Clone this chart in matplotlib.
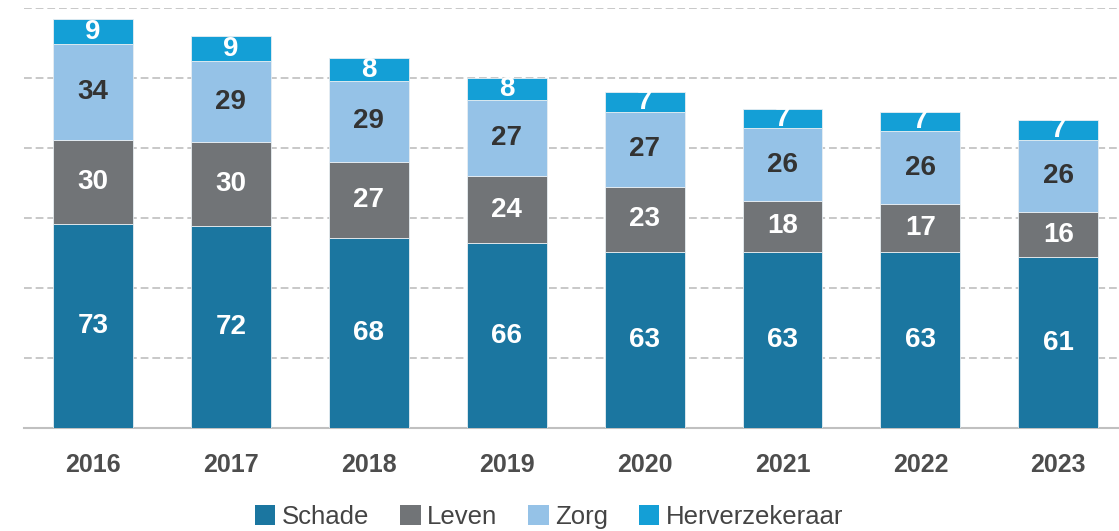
import numpy as np
import matplotlib.pyplot as plt
from matplotlib.patches import Patch

# data
years = ["2016", "2017", "2018", "2019", "2020", "2021", "2022", "2023"]
schade = [73, 72, 68, 66, 63, 63, 63, 61]
leven = [30, 30, 27, 24, 23, 18, 17, 16]
zorg = [34, 29, 29, 27, 27, 26, 26, 26]
herverzekeraar = [9, 9, 8, 8, 7, 7, 7, 7]

series = [
    ("Schade", schade, "#1b76a0", "white"),
    ("Leven", leven, "#717477", "white"),
    ("Zorg", zorg, "#95c2e7", "#333333"),
    ("Herverzekeraar", herverzekeraar, "#149fd6", "white"),
]

fig = plt.figure(figsize=(11.19, 5.31), dpi=100)
ax = fig.add_axes([24 / 1119, 1 - 428 / 531, 1 - 24 / 1119, (428 - 8) / 531])

x = np.arange(len(years))
bottom = np.zeros(len(years))
for name, vals, col, tcol in series:
    vals = np.array(vals)
    ax.bar(x, vals, 0.58, bottom=bottom, color=col, edgecolor="#e8eef2",
           linewidth=0.6, zorder=3, label=name)
    for xi, b, v in zip(x, bottom, vals):
        ax.text(xi, b + v / 2, str(v), ha="center", va="center",
                fontsize=20, fontweight="bold", color=tcol,
                family="Liberation Sans", zorder=4)
    bottom = bottom + vals

ax.set_xlim(-0.5, 7.44)
ax.set_ylim(0, 150)
ax.set_yticks(np.arange(25, 151, 25))
ax.yaxis.grid(True, color="#c8c8c8", linestyle=(0, (4, 2)), linewidth=1.4, zorder=0)
ax.tick_params(axis="y", left=False, labelleft=False)
ax.tick_params(axis="x", length=0, pad=18)
ax.set_xticks(x)
ax.set_xticklabels(years, fontsize=18, fontweight="bold", color="#4d4d4d",
                   family="Liberation Sans")
for s in ["top", "right", "left"]:
    ax.spines[s].set_visible(False)
ax.spines["bottom"].set_color("#c0c0c0")
ax.spines["bottom"].set_linewidth(1.5)

handles = [Patch(facecolor=c, label=n) for n, _, c, _ in series]
fig.legend(handles=handles, loc="center", bbox_to_anchor=(549 / 1119, 1 - 517 / 531),
           ncol=4, frameon=False, handlelength=0.8, handleheight=0.8,
           handletextpad=0.25, columnspacing=1.2,
           prop={"family": "Liberation Sans", "size": 18.5})
for t in fig.legends[0].get_texts():
    t.set_color("#444444")

plt.savefig("out.png", dpi=100)
